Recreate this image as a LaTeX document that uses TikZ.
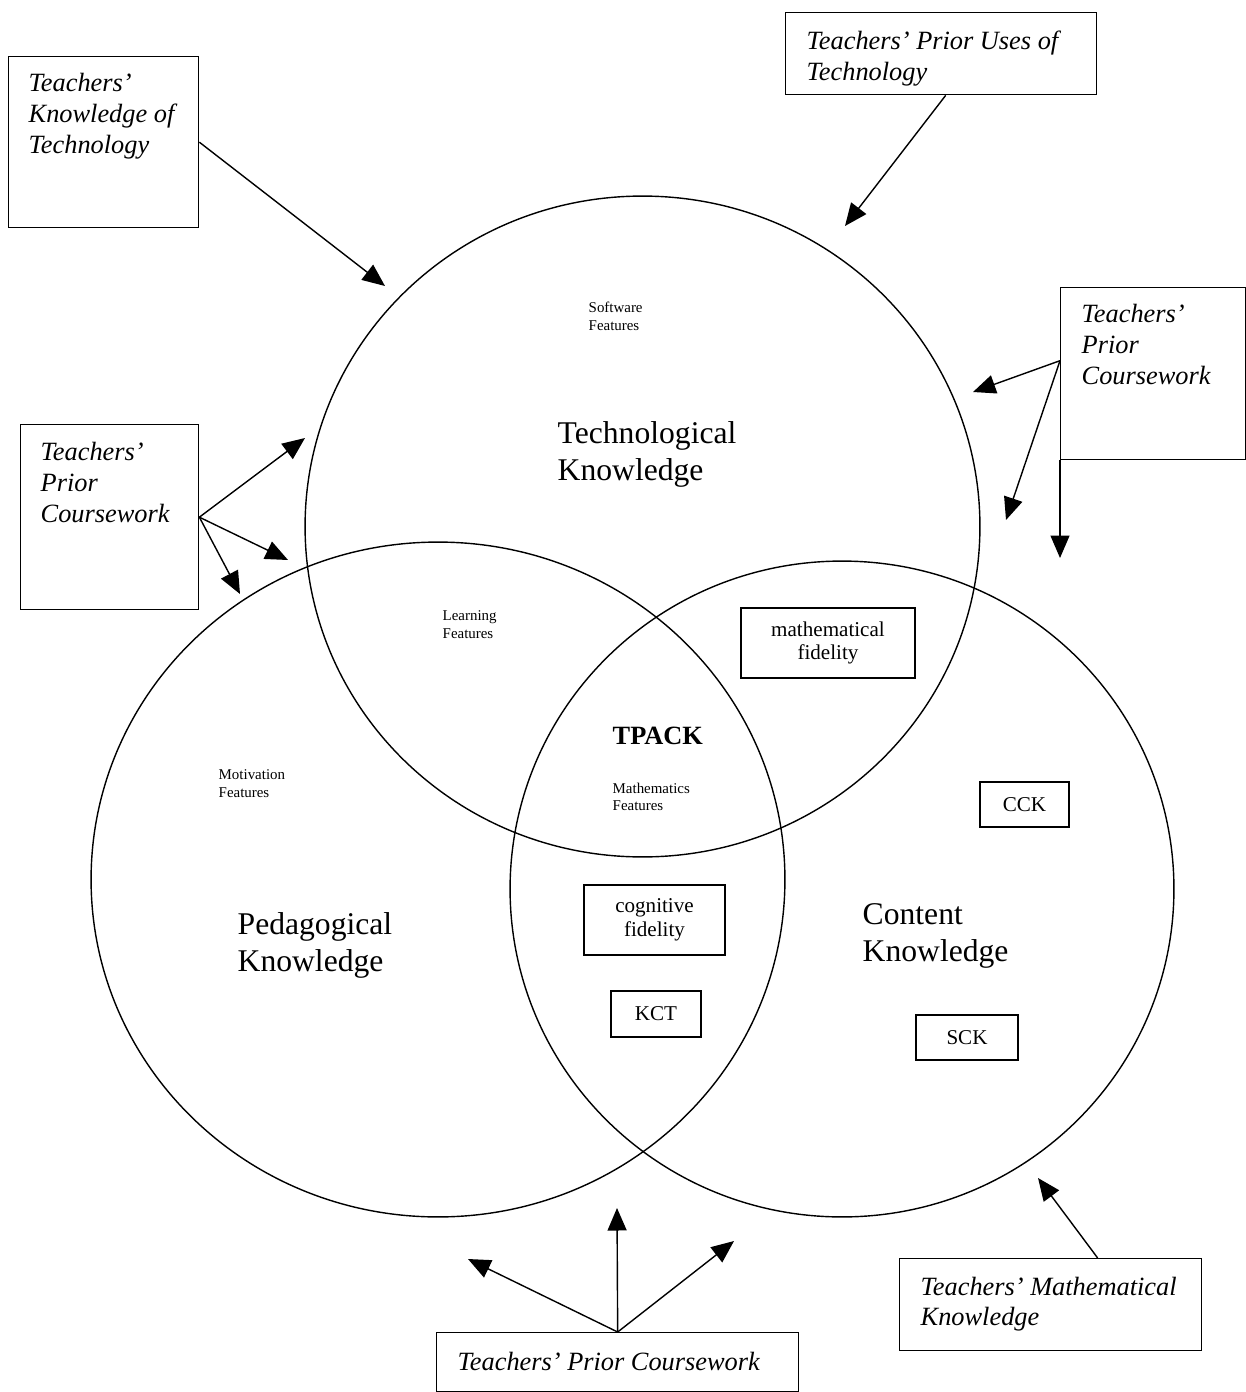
\documentclass[tikz,border=0pt]{standalone}
\usepackage{fontspec}
\setmainfont{Liberation Serif}
\usetikzlibrary{
    calc,
    arrows.meta
}

\begin{document}
\begin{tikzpicture}[x=0.02cm,y=-0.02cm,line width=0.8pt,
    >={Triangle[length=0.45cm,width=0.38cm]},
    outbox/.style={draw,anchor=north west,inner sep=0pt},
    outtext/.style={anchor=north west,inner sep=0pt,align=left,
        font=\fontsize{15}{17.6}\selectfont\itshape},
    inbox/.style={draw,inner sep=0pt,align=center,
        font=\fontsize{12}{13.6}\selectfont},
    featuretext/.style={anchor=north west,inner sep=0pt,align=left,
        font=\fontsize{8.5}{10.2}\selectfont},
    areatext/.style={anchor=north west,inner sep=0pt,align=left,
        font=\fontsize{18}{21}\selectfont}]
    \useasboundingbox (0,0) rectangle (1246,1392);

    \begin{scope}
        \coordinate (tk) at (642.5,526.5);
        \coordinate (pk) at (438,879.5);
        \coordinate (ck) at (842,889);
        \draw (tk) ellipse [x radius=6.75cm, y radius=6.61cm];
        \draw (pk) ellipse [x radius=6.94cm, y radius=6.75cm];
        \draw (ck) ellipse [x radius=6.64cm, y radius=6.56cm];

        \node[featuretext] (sw) at (588,301) {Software\\Features};
        \node[areatext] (tl) at (557,421) {Technological\\Knowledge};
        \node[featuretext] (lf) at (442,610) {Learning\\Features};
        \node[anchor=north west,inner sep=0pt,font=\fontsize{15}{17}\selectfont\bfseries]
            (tp) at (612,726) {TPACK};
        \node[featuretext] (mf) at (612,782) {Mathematics\\Features};
        \node[featuretext] (mo) at (218,769) {Motivation\\Features};
        \node[areatext] (pl) at (237,912) {Pedagogical\\Knowledge};
        \node[areatext] (cl) at (862,903) {Content\\Knowledge};

        \node[inbox,minimum width=3.48cm,minimum height=1.4cm] (mfid) at (828,643) {mathematical\\fidelity};
        \node[inbox,minimum width=2.82cm,minimum height=1.4cm] (cfid) at (654.5,920) {cognitive\\fidelity};
        \node[inbox,minimum width=1.8cm,minimum height=0.92cm] (kct) at (656,1014) {KCT};
        \node[inbox,minimum width=1.78cm,minimum height=0.9cm] (cck) at (1024.5,804.5) {CCK};
        \node[inbox,minimum width=2.04cm,minimum height=0.9cm] (sck) at (967,1037.5) {SCK};
    \end{scope}

    \node[outbox,minimum width=3.8cm,minimum height=3.42cm] (kt) at (8,56) {};
    \node[outtext] (ktl) at ([shift={(20,17)}]kt.north west) {Teachers’\\Knowledge of\\Technology};
    \node[outbox,minimum width=6.22cm,minimum height=1.64cm] (pu) at (785,12) {};
    \node[outtext] (pul) at ([shift={(21,18)}]pu.north west) {Teachers’ Prior Uses of\\Technology};
    \node[outbox,minimum width=3.7cm,minimum height=3.44cm] (pcr) at (1060,287) {};
    \node[outtext] (pcrl) at ([shift={(21,17)}]pcr.north west) {Teachers’\\Prior\\Coursework};
    \node[outbox,minimum width=3.56cm,minimum height=3.7cm] (pcl) at (20,424) {};
    \node[outtext] (pcll) at ([shift={(20,18)}]pcl.north west) {Teachers’\\Prior\\Coursework};
    \node[outbox,minimum width=7.24cm,minimum height=1.18cm] (pcb) at (436,1332) {};
    \node[outtext] (pcbl) at ([shift={(21,19)}]pcb.north west) {Teachers’ Prior Coursework};
    \node[outbox,minimum width=6.04cm,minimum height=1.84cm] (tmk) at (899,1258) {};
    \node[outtext] (tmkl) at ([shift={(21,18)}]tmk.north west) {Teachers’ Mathematical\\Knowledge};

    \coordinate (puout) at ([xshift=0.09cm]pu.south);
    \coordinate (pcrout) at ([yshift=0.26cm]pcr.west);
    \coordinate (tmkout) at ([xshift=0.94cm]tmk.north);

    \draw[->] (kt.east) -- (385,286);
    \draw[->] (puout) -- (845,226);
    \draw[->] (pcrout) -- (973,392);
    \draw[->] (pcrout) -- (1006,520);
    \draw[->] (pcr.south west) -- (1060,558);
    \draw[->] (pcl.east) -- (305,438);
    \draw[->] (pcl.east) -- (288,560);
    \draw[->] (pcl.east) -- (240,594);
    \draw[->] (pcb.north) -- (468,1259);
    \draw[->] (pcb.north) -- (617,1208);
    \draw[->] (pcb.north) -- (734,1241);
    \draw[->] (tmkout) -- (1038,1178);
\end{tikzpicture}
\end{document}
